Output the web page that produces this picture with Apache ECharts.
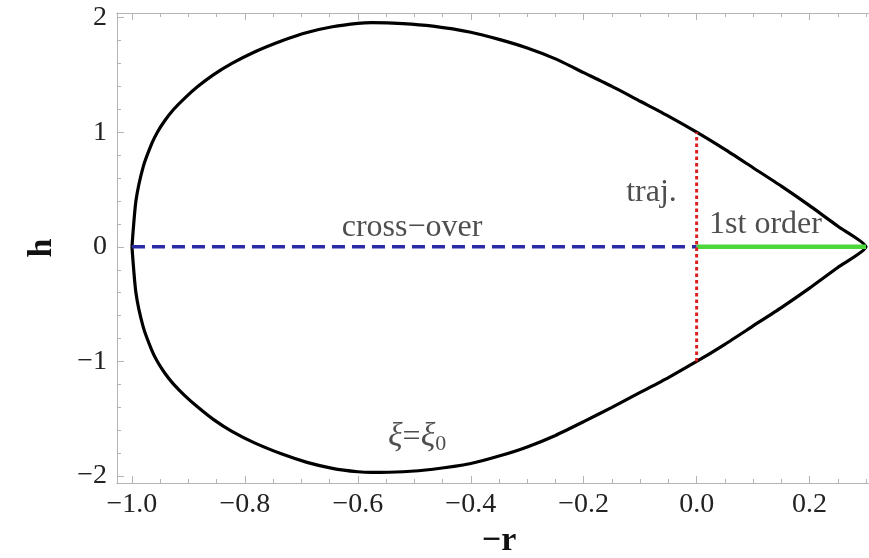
<!DOCTYPE html>
<html>
<head>
<meta charset="utf-8">
<script src="https://cdn.jsdelivr.net/npm/echarts@6/dist/echarts.min.js"></script>
<style>
  html, body { margin: 0; padding: 0; background: #fff; }
  #chart { width: 869px; height: 558px; }
</style>
</head>
<body>
<div id="chart"></div>
<script>
// boundary xi = xi0 (upper half left to right, lower half right to left)
const upperR = [-1.0, -0.993, -0.98, -0.965, -0.955, -0.942, -0.926, -0.906, -0.883, -0.856, -0.823, -0.783, -0.733, -0.69, -0.645, -0.60, -0.575, -0.52, -0.467, -0.40, -0.35, -0.30, -0.25, -0.20, -0.15, -0.10, -0.05, 0.0, 0.05, 0.10, 0.15, 0.20, 0.25, 0.30]
const upperH = [0.0, 0.40, 0.70, 0.90, 1.0, 1.10, 1.20, 1.30, 1.40, 1.50, 1.60, 1.70, 1.80, 1.87, 1.92, 1.95, 1.956, 1.948, 1.925, 1.872, 1.81, 1.735, 1.64, 1.52, 1.40, 1.27, 1.14, 1.0, 0.85, 0.69, 0.53, 0.36, 0.18, 0.0]
const lowerR = [0.25, 0.20, 0.15, 0.10, 0.05, 0.0, -0.05, -0.10, -0.15, -0.20, -0.25, -0.30, -0.35, -0.40, -0.467, -0.52, -0.575, -0.60, -0.645, -0.69, -0.733, -0.783, -0.823, -0.856, -0.883, -0.906, -0.926, -0.942, -0.955, -0.965, -0.98, -0.993, -1.0]
const lowerH = [-0.18, -0.36, -0.53, -0.69, -0.85, -1.0, -1.14, -1.27, -1.40, -1.525, -1.645, -1.745, -1.825, -1.89, -1.94, -1.962, -1.968, -1.962, -1.932, -1.88, -1.81, -1.71, -1.61, -1.505, -1.40, -1.30, -1.20, -1.10, -1.0, -0.90, -0.70, -0.40, 0.0]

// straight segments
const crossOver = [[-1.0, 0], [0.0, 0]]
const firstOrder = [[0.0, 0], [0.3, 0]]
const traj = [[0.0, -1.0], [0.0, 1.0]]

// tick values
const xMajor = [-1.0, -0.8, -0.6, -0.4, -0.2, 0.0, 0.2]
const xMinor = [-1.0, -0.95, -0.9, -0.85, -0.8, -0.75, -0.7, -0.65, -0.6, -0.55, -0.5, -0.45, -0.4, -0.35, -0.3, -0.25, -0.2, -0.15, -0.1, -0.05, 0.0, 0.05, 0.1, 0.15, 0.2, 0.25, 0.3]
const yMajor = [-2, -1, 0, 1, 2]
const yMinor = [-2, -1.8, -1.6, -1.4, -1.2, -1, -0.8, -0.6, -0.4, -0.2, 0, 0.2, 0.4, 0.6, 0.8, 1, 1.2, 1.4, 1.6, 1.8, 2]

// text annotations [r, h, text]
const notes = [
  [-0.504, 0.17, 'cross\u2212over'],
  [-0.08, 0.47, 'traj.'],
  [0.122, 0.19, '1st order'],
  [-0.495, -1.66, '{i|\u03be}={i|\u03be}{s|0}']
]

const serif = 'Liberation Serif'
const frame = '#b4b4b4'
const xRange = { min: -1.0265, max: 0.3265 }
const yRange = { min: -2.06, max: 2.04 }

const curve = []
upperR.forEach((r, i) => curve.push([r, upperH[i]]))
lowerR.forEach((r, i) => curve.push([r, lowerH[i]]))

const minus = v => String(v).replace('-', '\u2212')

function xAxisDef (pos, ticks, len, labels) {
  return {
    type: 'value', position: pos, ...xRange,
    axisLine: { show: true, onZero: false, lineStyle: { color: frame, width: 1 } },
    axisTick: { show: true, inside: true, length: len, customValues: ticks, lineStyle: { color: frame } },
    axisLabel: labels ? {
      show: true, customValues: xMajor, margin: 8,
      fontFamily: serif, fontSize: 28, color: '#222',
      formatter: v => minus(v.toFixed(1))
    } : { show: false },
    splitLine: { show: false }
  }
}
function yAxisDef (pos, ticks, len, labels) {
  return {
    type: 'value', position: pos, ...yRange,
    axisLine: { show: true, onZero: false, lineStyle: { color: frame, width: 1 } },
    axisTick: { show: true, inside: true, length: len, customValues: ticks, lineStyle: { color: frame } },
    axisLabel: labels ? {
      show: true, customValues: yMajor, margin: 10,
      fontFamily: serif, fontSize: 28, color: '#222',
      formatter: v => minus(v)
    } : { show: false },
    splitLine: { show: false }
  }
}

const xAxes = [
  xAxisDef('bottom', xMajor, 7, true),
  xAxisDef('bottom', xMinor, 4, false),
  xAxisDef('top', xMajor, 7, false),
  xAxisDef('top', xMinor, 4, false)
]
Object.assign(xAxes[0], {
  name: '\u2212r', nameLocation: 'middle', nameGap: 38,
  nameTextStyle: { fontFamily: serif, fontSize: 34, fontWeight: 'bold', color: '#111' }
})
const yAxes = [
  yAxisDef('left', yMajor, 7, true),
  yAxisDef('left', yMinor, 4, false),
  yAxisDef('right', yMajor, 7, false),
  yAxisDef('right', yMinor, 4, false)
]
Object.assign(yAxes[0], {
  name: 'h', nameLocation: 'middle', nameGap: 58,
  nameTextStyle: { fontFamily: serif, fontSize: 34, fontWeight: 'bold', color: '#111' }
})

const chart = echarts.init(document.getElementById('chart'), null, { renderer: 'canvas' })
chart.setOption({
  animation: false,
  backgroundColor: '#fff',
  // the plot frame runs past the right edge of the picture, as in the reference
  grid: { left: 117, top: 13, width: 764, height: 470, containLabel: false, outerBoundsMode: 'none' },
  xAxis: xAxes,
  yAxis: yAxes,
  series: [
    {
      type: 'line', data: curve, showSymbol: false, smooth: 0.2,
      lineStyle: { color: '#000', width: 3.2 }
    },
    {
      type: 'line', data: crossOver, showSymbol: false,
      lineStyle: { color: '#2b2ba6', width: 3.5, type: [13, 7] }
    },
    {
      type: 'line', data: firstOrder, showSymbol: false,
      lineStyle: { color: '#4cd83c', width: 4.5 }
    },
    {
      type: 'line', data: traj, showSymbol: false,
      lineStyle: { color: '#d82020', width: 3, type: [3.5, 3] }
    },
    {
      type: 'scatter', data: notes, symbolSize: 0, silent: true,
      label: {
        show: true, position: 'inside',
        formatter: p => p.data[2],
        fontFamily: serif, fontSize: 32, color: '#222',
        rich: {
          i: { fontFamily: serif, fontStyle: 'italic', fontSize: 34, color: '#222' },
          s: { fontFamily: serif, fontSize: 22, color: '#222', padding: [14, 0, 0, 0] }
        }
      }
    }
  ]
})
</script>
</body>
</html>
